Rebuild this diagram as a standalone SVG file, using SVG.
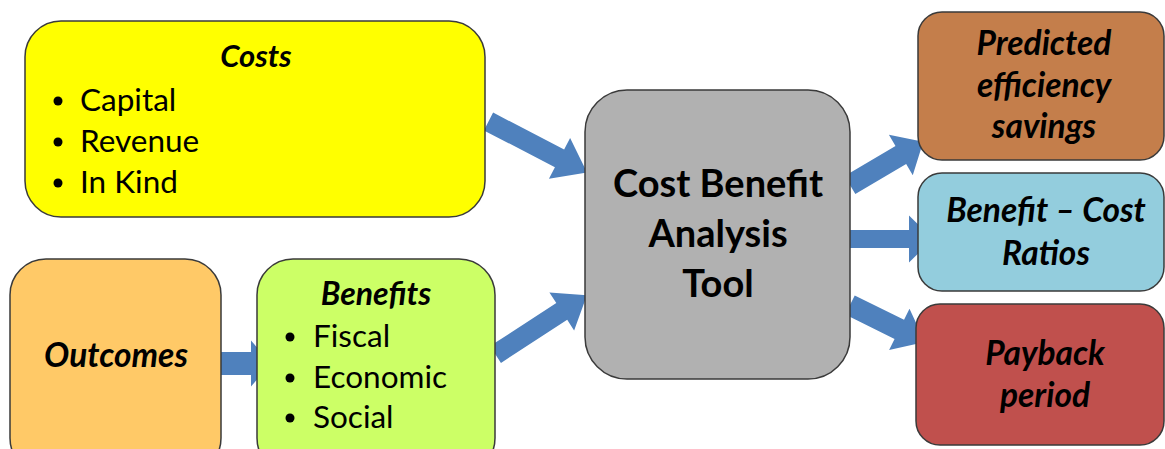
<svg xmlns="http://www.w3.org/2000/svg" width="1165" height="449" viewBox="0 0 1165 449">
  <style>
    .box { stroke: #3a3a3a; stroke-width: 1.5; }
    .arrow { fill: #4F81BD; }
    .t { font-family: Lato, "Open Sans", "Liberation Sans", sans-serif; fill: #000; }
    .title { font-weight: bold; font-style: italic; font-size: 32px; }
    .item { font-size: 31.5px; }
    .big { font-weight: bold; font-size: 38px; }
    .out { font-weight: bold; font-style: italic; font-size: 33.5px; }
  </style>
  <rect width="1165" height="449" fill="#ffffff"/>

  <!-- connectors: block arrows drawn along +x, then placed -->
  <g id="connectors">
    <polygon class="arrow" transform="translate(488.5,121.5) rotate(27.4)" points="0,-10 80,-10 80,-23 111,0 80,23 80,10 0,10"/>
    <polygon class="arrow" transform="translate(220,363.5)" points="0,-11.5 31,-11.5 31,-23 51,0 31,23 31,11.5 0,11.5"/>
    <polygon class="arrow" transform="translate(495.5,354.5) rotate(-33)" points="0,-10 79,-10 79,-22.7 109,0 79,22.7 79,10 0,10"/>
    <polygon class="arrow" transform="translate(850,185) rotate(-30.5)" points="0,-10.5 59,-10.5 59,-23.5 85,0 59,23.5 59,10.5 0,10.5"/>
    <polygon class="arrow" transform="translate(850,239)" points="0,-9 59,-9 59,-23.5 83,0 59,23.5 59,9 0,9"/>
    <polygon class="arrow" transform="translate(850,305) rotate(26.3)" points="0,-10.7 55,-10.7 55,-23 83.6,0 55,23 55,10.7 0,10.7"/>
  </g>

  <g id="costs">
    <rect class="box" x="25" y="21" width="460" height="196" rx="36" fill="#FFFF00"/>
    <text class="t title" x="256" y="67" text-anchor="middle" style="font-size:31px">Costs</text>
    <circle cx="58" cy="101" r="4.5"/>
    <circle cx="58" cy="142" r="4.5"/>
    <circle cx="58" cy="183" r="4.5"/>
    <text class="t item" x="80" y="111">Capital</text>
    <text class="t item" x="80" y="152">Revenue</text>
    <text class="t item" x="80" y="193">In Kind</text>
  </g>

  <g id="outcomes">
    <rect class="box" x="10" y="259" width="211" height="215" rx="36" fill="#FFC967"/>
    <text class="t out" x="116" y="367" text-anchor="middle">Outcomes</text>
  </g>

  <g id="benefits">
    <rect class="box" x="257" y="259" width="238" height="215" rx="36" fill="#CCFF66"/>
    <text class="t title" x="376" y="305" text-anchor="middle">Benefits</text>
    <circle cx="290" cy="337" r="4.5"/>
    <circle cx="290" cy="378" r="4.5"/>
    <circle cx="290" cy="418" r="4.5"/>
    <text class="t item" x="313" y="347">Fiscal</text>
    <text class="t item" x="313" y="388">Economic</text>
    <text class="t item" x="313" y="428">Social</text>
  </g>

  <g id="tool">
    <rect class="box" x="585" y="90" width="265" height="289" rx="42" fill="#B1B1B1"/>
    <text class="t big" x="718" y="197" text-anchor="middle">Cost Benefit</text>
    <text class="t big" x="718" y="247" text-anchor="middle">Analysis</text>
    <text class="t big" x="718" y="297" text-anchor="middle">Tool</text>
  </g>

  <g id="savings">
    <rect class="box" x="918" y="12" width="246" height="148" rx="24" fill="#C47E4B"/>
    <text class="t out" x="1044" y="55" text-anchor="middle">Predicted</text>
    <text class="t out" x="1044" y="97" text-anchor="middle">efficiency</text>
    <text class="t out" x="1044" y="138" text-anchor="middle">savings</text>
  </g>

  <g id="ratios">
    <rect class="box" x="918" y="173" width="246" height="118" rx="24" fill="#93CDDD"/>
    <text class="t out" x="1046" y="222" text-anchor="middle">Benefit – Cost</text>
    <text class="t out" x="1046" y="265" text-anchor="middle">Ratios</text>
  </g>

  <g id="payback">
    <rect class="box" x="916" y="304" width="248" height="141" rx="24" fill="#C0504D"/>
    <text class="t out" x="1045" y="365" text-anchor="middle">Payback</text>
    <text class="t out" x="1045" y="407" text-anchor="middle">period</text>
  </g>
</svg>
